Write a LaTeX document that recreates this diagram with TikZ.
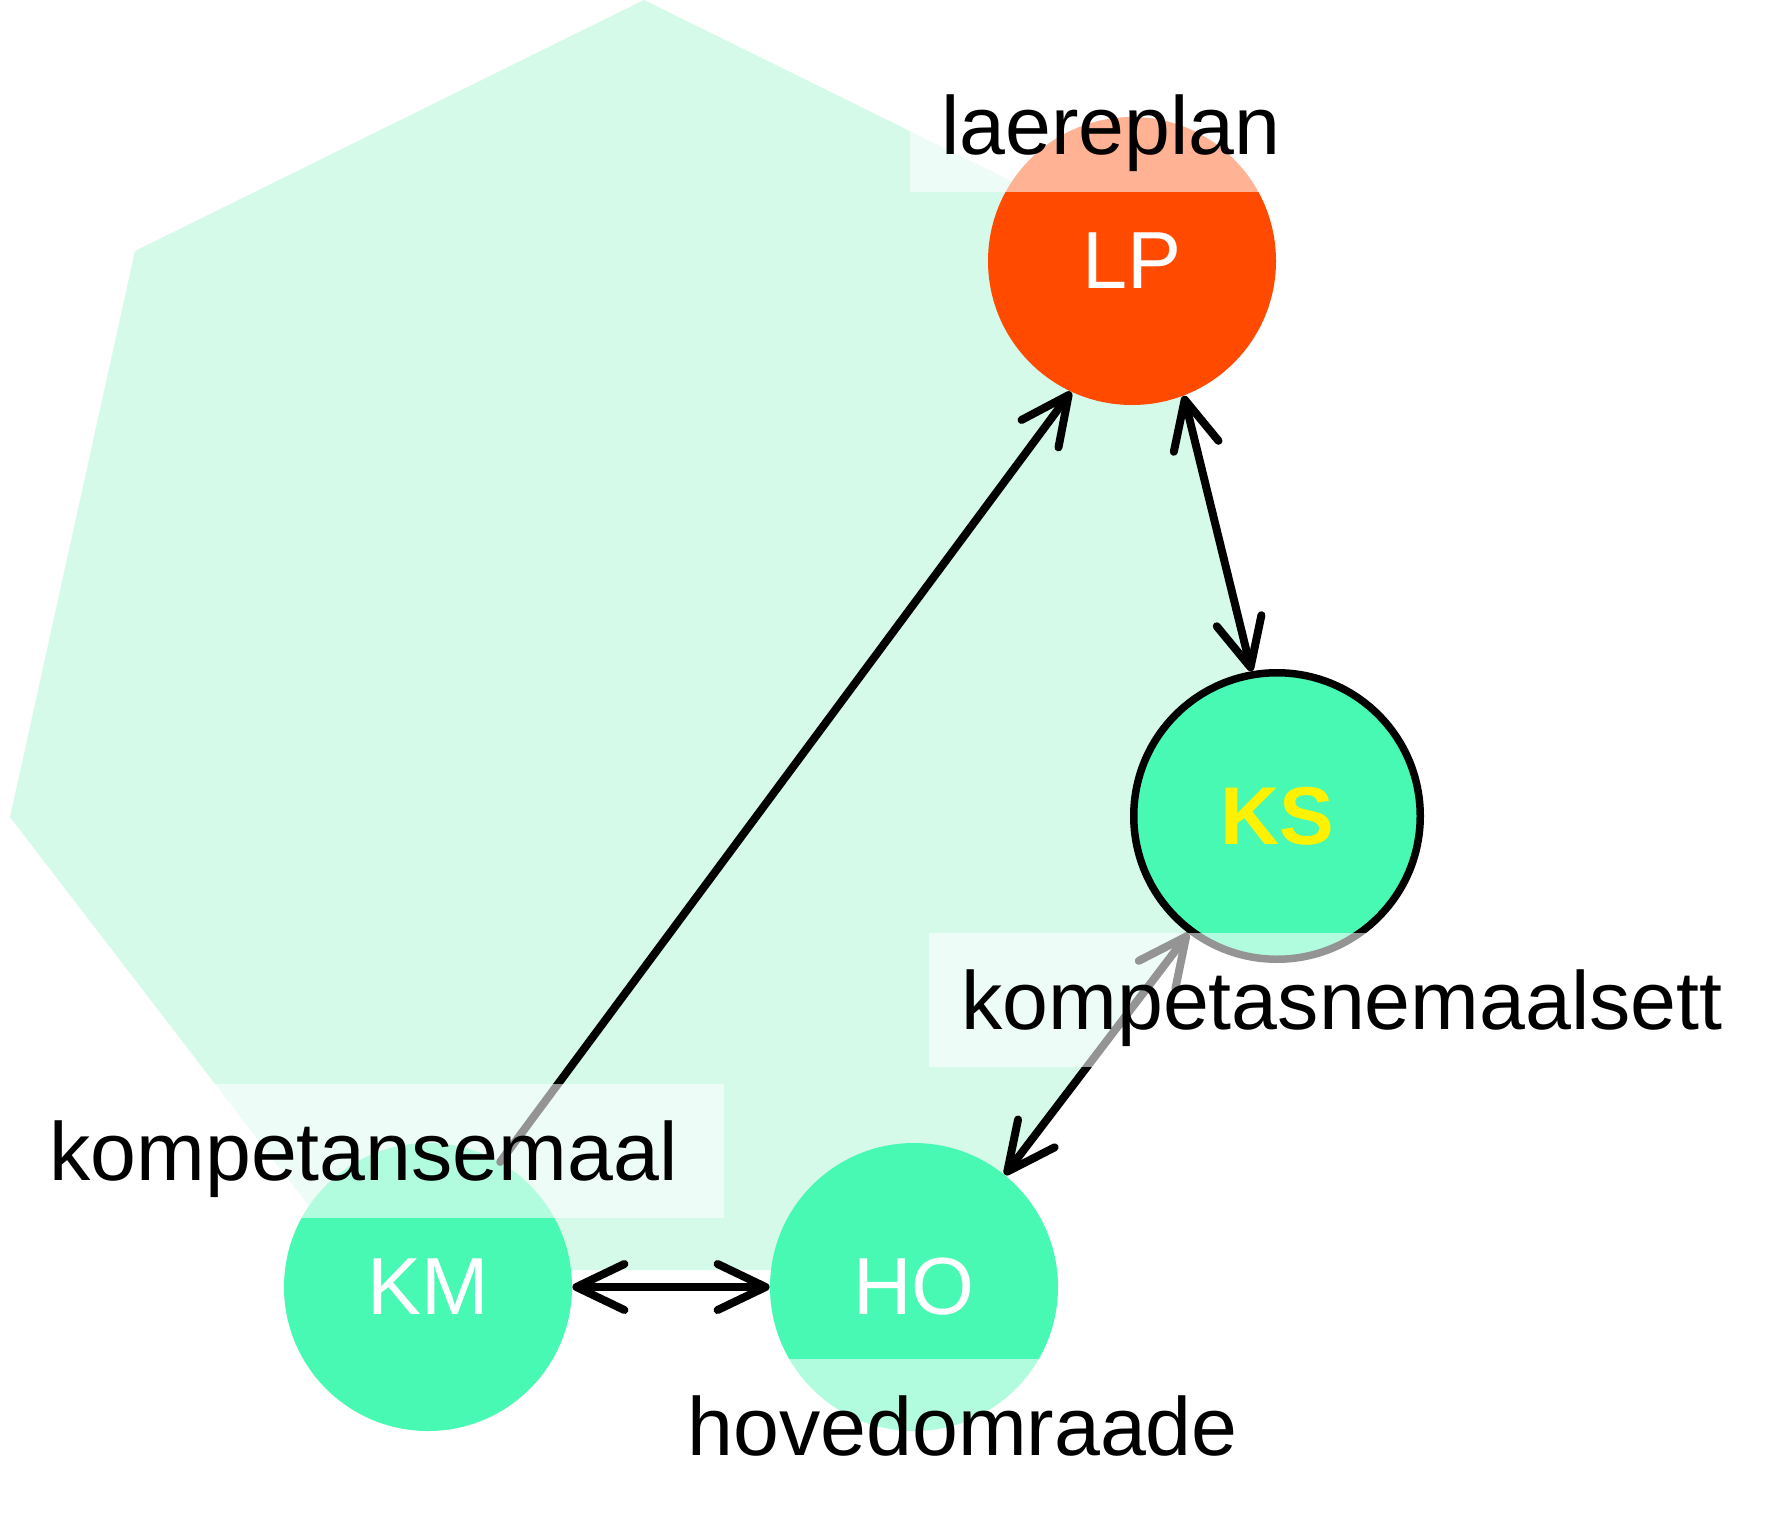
\documentclass[tikz,border=0pt]{standalone}
\usepackage{fontspec}
\setmainfont{Liberation Sans}
\usetikzlibrary{arrows.meta}
\definecolor{hullfill}{HTML}{D6FAEA}
\definecolor{nodegreen}{HTML}{47F9B2}
\definecolor{lporange}{HTML}{FF4A00}
\begin{document}
\begin{tikzpicture}[x=0.5pt,y=-0.5pt,
  >={Straight Barb[length=24pt,width=23pt,round]},
  disc/.style={circle, minimum size=144pt, inner sep=0pt, fill=nodegreen, text=white, font=\fontsize{40.5pt}{48pt}\selectfont},
  tag/.style={anchor=south west, fill=white, fill opacity=0.58, text opacity=1, inner xsep=0pt, inner ysep=0pt, text height=48.5pt, text depth=18.5pt, font=\fontsize{41.25pt}{48pt}\selectfont},
  link/.style={line width=4pt, line cap=round, draw=black},
]
\useasboundingbox (0,0) rectangle (1778,1525);
\fill[white] (0,0) rectangle (1778,1525);
% hull
\fill[hullfill] (644,0) -- (1153,251) -- (1278,817) -- (930,1270) -- (358,1270) -- (10,817) -- (135,251) -- cycle;
% nodes
\node[disc, fill=lporange] (LP) at (1132,261) {LP};
\node[disc, draw=black, line width=3.75pt, minimum size=143.25pt, text=yellow, font=\fontsize{41pt}{48pt}\selectfont\bfseries] (KS) at (1277,816) {KS};
\node[disc] (KM) at (428,1287) {KM};
\node[disc] (HO) at (914,1287) {HO};
% connectors
\draw[link,->] (KM.60.75) -- (LP.245.4);
\draw[link,<->] (LP.291.8) -- (KS.100.5);
\draw[link,<->] (KS.233.2) -- (HO.51);
\draw[link,<->] (KM.east) -- (HO.west);
% labels
\node[tag] (LPlab) at (910,192) {\makebox[206pt][l]{\hspace{15.5pt}laereplan}};
\node[tag] (KSlab) at (929,1067) {\makebox[423pt][l]{\hspace{16pt}kompetasnemaalsett}};
\node[tag] (KMlab) at (15,1218) {\makebox[354.5pt][l]{\hspace{17pt}kompetansemaal}};
\node[tag] (HOlab) at (654,1493) {\makebox[318pt][l]{\hspace{16.5pt}hovedomraade}};
\end{tikzpicture}
\end{document}
